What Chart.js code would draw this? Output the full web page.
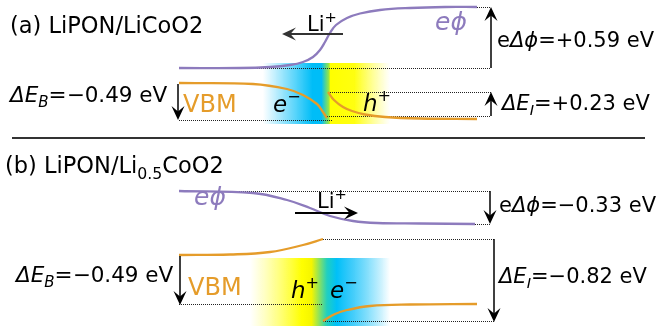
<!DOCTYPE html>
<html>
<head>
<meta charset="utf-8">
<script src="https://cdn.jsdelivr.net/npm/chart.js@4"></script>
<style>
  body { margin: 0; background: #fff; }
  #wrap { width: 658px; height: 326px; position: relative; }
</style>
</head>
<body>
<div id="wrap"><canvas id="bandChart"></canvas></div>
<script>
// Curves, x / y in figure units (0..658, 0..326, y down)
const phiA = [[179,68],[240,68],[270,67],[290,65],[303,62],[313,57],[320,50],[325,42],[330,33],[336,25],[347,18],[360,13.5],[380,10],[410,8],[445,7],[477,7]];
const vbmA1 = [[179,83],[253,84],[287,89],[303,95],[317,104],[323,112],[327,118]];
const vbmA2 = [[328,92],[334,100],[343,107],[352,111],[365,114.5],[385,117],[420,118.5],[477,119]];
const phiB = [[179,191],[253,193],[287,200],[310,208],[330,216],[353,221],[377,223],[420,223.5],[475,224]];
const vbmB1 = [[179,255],[230,254.5],[270,252],[303,245],[323,239]];
const vbmB2 = [[323,321],[335,314],[347,310],[370,306],[410,304.5],[477,304]];

const purple = '#8d7bbd';
const orange = '#e59c2a';

let line = (data, color) => ({
    data: data.map(p => ({x: p[0], y: p[1]})),
    showLine: true,
    borderColor: color,
    borderWidth: 2.3,
    pointRadius: 0,
    tension: 0.4,
    fill: false,
});

// rich text: runs of [text, style] where style is '', 'i', 'sub', 'subi', 'sup'
function rich(ctx, x, y, runs, size, color) {
    ctx.fillStyle = color || '#000';
    ctx.textBaseline = 'alphabetic';
    ctx.textAlign = 'left';
    for (const [t, s] of runs) {
        let sz = size, dy = 0, it = s.includes('i');
        if (s.startsWith('sub')) { sz = size * 0.7; dy = size * 0.25; }
        if (s === 'sup') { sz = size * 0.7; dy = -size * 0.42; }
        ctx.font = (it ? 'italic ' : '') + sz + 'px "DejaVu Sans"';
        ctx.fillText(t, x, y + dy);
        x += ctx.measureText(t).width;
    }
}

const diagram = {
    id: 'diagram',
    beforeDatasetsDraw(chart) {
        const {ctx, scales: {x, y}} = chart;
        const X = v => x.getPixelForValue(v), Y = v => y.getPixelForValue(v);

        // charge gradient bands
        let band = (x0, x1, y0, y1, stops) => {
            const g = ctx.createLinearGradient(X(x0), 0, X(x1), 0);
            stops.forEach(([o, c]) => g.addColorStop(o, c));
            ctx.fillStyle = g;
            ctx.fillRect(X(x0), Y(y0), X(x1) - X(x0), Y(y1) - Y(y0));
        };
        band(263, 390, 63, 124, [[0, 'rgba(0,190,250,0)'], [0.39, '#00bdf7'], [0.46, '#00bdf7'], [0.52, '#9ee83a'], [0.53, '#ffff00'], [0.72, '#ffff10'], [1, 'rgba(255,255,60,0)']]);
        band(250, 390, 258, 326, [[0, 'rgba(255,255,60,0)'], [0.37, '#ffff00'], [0.44, '#f5f500'], [0.55, '#20cfc0'], [0.62, '#00c0f8'], [0.7, '#30c8fa'], [1, 'rgba(0,190,250,0)']]);

        // dotted guides
        ctx.save();
        ctx.strokeStyle = '#222';
        ctx.lineWidth = 1;
        ctx.setLineDash([1, 1]);
        const dots = [[179,491,68],[477,491,7],[328,491,92],[325,491,116],[179,333,120],
                      [179,491,191],[475,491,224],[323,495,239],[179,323,304],[323,495,321]];
        dots.forEach(([a, b, v]) => {
            const py = Math.round(Y(v)) + 0.5;
            ctx.beginPath(); ctx.moveTo(X(a), py); ctx.lineTo(X(b), py); ctx.stroke();
        });
        ctx.restore();
    },
    afterDatasetsDraw(chart) {
        const {ctx, scales: {x, y}} = chart;
        const X = v => x.getPixelForValue(v), Y = v => y.getPixelForValue(v);

        let arrow = (x0, y0, x1, y1, color, w) => {
            const px0 = X(x0), py0 = Y(y0), px1 = X(x1), py1 = Y(y1);
            const ang = Math.atan2(py1 - py0, px1 - px0);
            const L = 14, H = 6.5;
            ctx.save();
            ctx.strokeStyle = color; ctx.fillStyle = color; ctx.lineWidth = w;
            ctx.beginPath(); ctx.moveTo(px0, py0);
            ctx.lineTo(px1 - Math.cos(ang) * 6, py1 - Math.sin(ang) * 6); ctx.stroke();
            ctx.translate(px1, py1); ctx.rotate(ang);
            ctx.beginPath(); ctx.moveTo(0, 0); ctx.lineTo(-L, -H); ctx.lineTo(-L * 0.6, 0); ctx.lineTo(-L, H);
            ctx.closePath(); ctx.fill();
            ctx.restore();
        };
        arrow(491, 68, 491, 7, '#000', 1.5);
        arrow(491, 116, 491, 92, '#000', 1.5);
        arrow(178, 84, 178, 120, '#000', 1.5);
        arrow(343, 34, 282, 34, '#333', 2);
        arrow(490, 191, 490, 224, '#000', 1.5);
        arrow(180, 256, 180, 305, '#000', 1.5);
        arrow(494, 239, 494, 322, '#000', 1.5);
        arrow(295, 213, 358, 213, '#000', 2);

        // separator
        ctx.save();
        ctx.strokeStyle = '#333'; ctx.lineWidth = 2;
        ctx.beginPath(); ctx.moveTo(X(12), Y(138)); ctx.lineTo(X(645), Y(138)); ctx.stroke();
        ctx.restore();

        // labels
        rich(ctx, X(10), Y(33), [['(a) LiPON/LiCoO2', '']], 22.5);
        rich(ctx, X(5), Y(173), [['(b) LiPON/Li', ''], ['0.5', 'sub'], ['CoO2', '']], 22.5);
        rich(ctx, X(10), Y(102), [['ΔE', 'i'], ['B', 'subi'], ['=−0.49 eV', '']], 21.5);
        rich(ctx, X(16), Y(282), [['ΔE', 'i'], ['B', 'subi'], ['=−0.49 eV', '']], 21.5);
        rich(ctx, X(497), Y(47), [['e', ''], ['Δϕ', 'i'], ['=+0.59 eV', '']], 21);
        rich(ctx, X(502), Y(110), [['ΔE', 'i'], ['I', 'subi'], ['=+0.23 eV', '']], 21);
        rich(ctx, X(499), Y(212), [['e', ''], ['Δϕ', 'i'], ['=−0.33 eV', '']], 21);
        rich(ctx, X(499), Y(283), [['ΔE', 'i'], ['I', 'subi'], ['=−0.82 eV', '']], 21);
        rich(ctx, X(183), Y(112), [['VBM', '']], 24, orange);
        rich(ctx, X(188), Y(295), [['VBM', '']], 24, orange);
        rich(ctx, X(435), Y(30), [['eϕ', 'i']], 25, purple);
        rich(ctx, X(194), Y(205), [['eϕ', 'i']], 25, purple);
        rich(ctx, X(307), Y(31), [['Li', ''], ['+', 'sup']], 21);
        rich(ctx, X(317), Y(208), [['Li', ''], ['+', 'sup']], 21);
        rich(ctx, X(273), Y(112), [['e', 'i'], ['−', 'sup']], 23);
        rich(ctx, X(363), Y(111), [['h', 'i'], ['+', 'sup']], 23);
        rich(ctx, X(291), Y(298), [['h', 'i'], ['+', 'sup']], 23);
        rich(ctx, X(330), Y(298), [['e', 'i'], ['−', 'sup']], 23);
    }
};

new Chart(document.getElementById('bandChart'), {
    type: 'scatter',
    data: {
        datasets: [
            line(phiA, purple),
            line(vbmA1, orange),
            line(vbmA2, orange),
            line(phiB, purple),
            line(vbmB1, orange),
            line(vbmB2, orange),
        ]
    },
    options: {
        responsive: true,
        maintainAspectRatio: false,
        animation: false,
        layout: { padding: 0 },
        plugins: {
            legend: { display: false },
            tooltip: { enabled: false },
        },
        scales: {
            x: { type: 'linear', min: 0, max: 658, display: false },
            y: { type: 'linear', min: 0, max: 326, reverse: true, display: false },
        }
    },
    plugins: [diagram],
});
</script>
</body>
</html>
